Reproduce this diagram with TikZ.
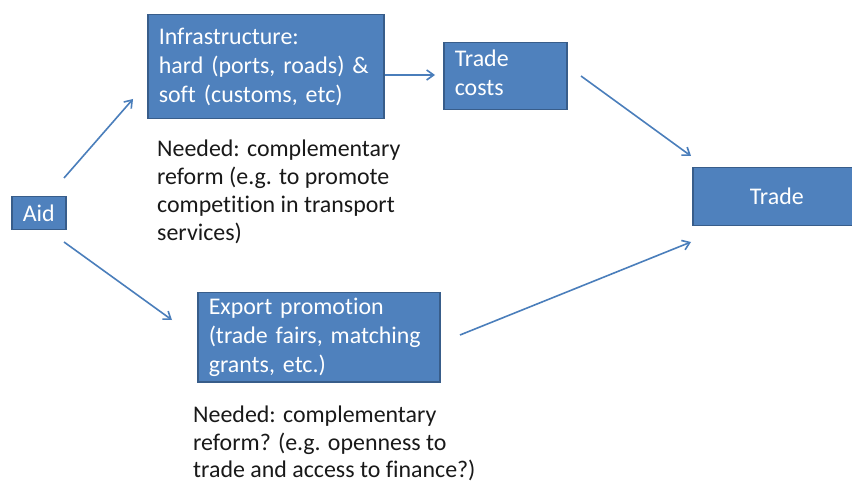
\documentclass[tikz,border=0pt]{standalone}
\usepackage{fontspec}
\setmainfont[Ligatures=NoCommon]{Carlito}
\usetikzlibrary{arrows.meta}
\definecolor{boxfill}{HTML}{4F81BD}
\definecolor{boxline}{HTML}{385D8A}
\definecolor{arrowc}{HTML}{4A7EBB}
\tikzset{
  box/.style={draw=boxline, line width=1.5bp, fill=boxfill, text=white, anchor=north west,
    inner xsep=11bp, inner ysep=0bp, align=left, font=\fontsize{24}{29.3}\selectfont},
  note/.style={anchor=north west, inner sep=0bp, align=left, text=black!90,
    font=\fontsize{24}{27.5}\selectfont},
  conn/.style={draw=arrowc, line width=1.6bp, -{Straight Barb[length=7bp,width=10bp,line width=1.6bp]}}
}
\begin{document}
\begin{tikzpicture}[x=1bp,y=-1bp]
\useasboundingbox (0,0) rectangle (852,484);
\fill[white] (0,0) rectangle (852,484);
\node[box, minimum width=236bp, minimum height=104bp, text width=214bp] (infra) at (147,14)
  {Infrastructure:\\hard (ports, roads) \&\\soft (customs, etc)};
\node[box, minimum width=123bp, minimum height=67bp, text width=101bp] (costs) at (443,42)
  {Trade\\costs\rule[-7bp]{0pt}{0pt}};
\node[box, minimum width=168bp, minimum height=58bp, align=center, text width=146bp] (trade) at (692,167)
  {Trade};
\node[box, minimum width=54bp, minimum height=33bp, inner xsep=0bp, align=center, text width=54bp] (aid) at (11,196)
  {Aid};
\node[box, minimum width=242bp, minimum height=89bp, text width=220bp] (export) at (197,292)
  {Export promotion\\(trade fairs, matching\\grants, etc.)};
\node[note, font=\fontsize{24}{28}\selectfont] (need1) at (157,140)
  {Needed: complementary\\reform (e.g. to promote\\competition in transport\\services)};
\node[note] (need2) at (193,406)
  {Needed: complementary\\reform? (e.g. openness to\\trade and access to finance?)};
\coordinate (a1s) at (64,178);
\coordinate (a1e) at (133,99);
\coordinate (a2s) at (64,242);
\coordinate (a2e) at (172,320);
\coordinate (c1s) at (581,76);
\coordinate (c1e) at (691,156);
\coordinate (e1s) at (460,335);
\coordinate (e1e) at (691,242);
\draw[conn] (a1s) -- (a1e);
\draw[conn] (a2s) -- (a2e);
\draw[conn] (infra.east |- 0,75) -- (435,75);
\draw[conn] (c1s) -- (c1e);
\draw[conn] (e1s) -- (e1e);
\end{tikzpicture}
\end{document}
